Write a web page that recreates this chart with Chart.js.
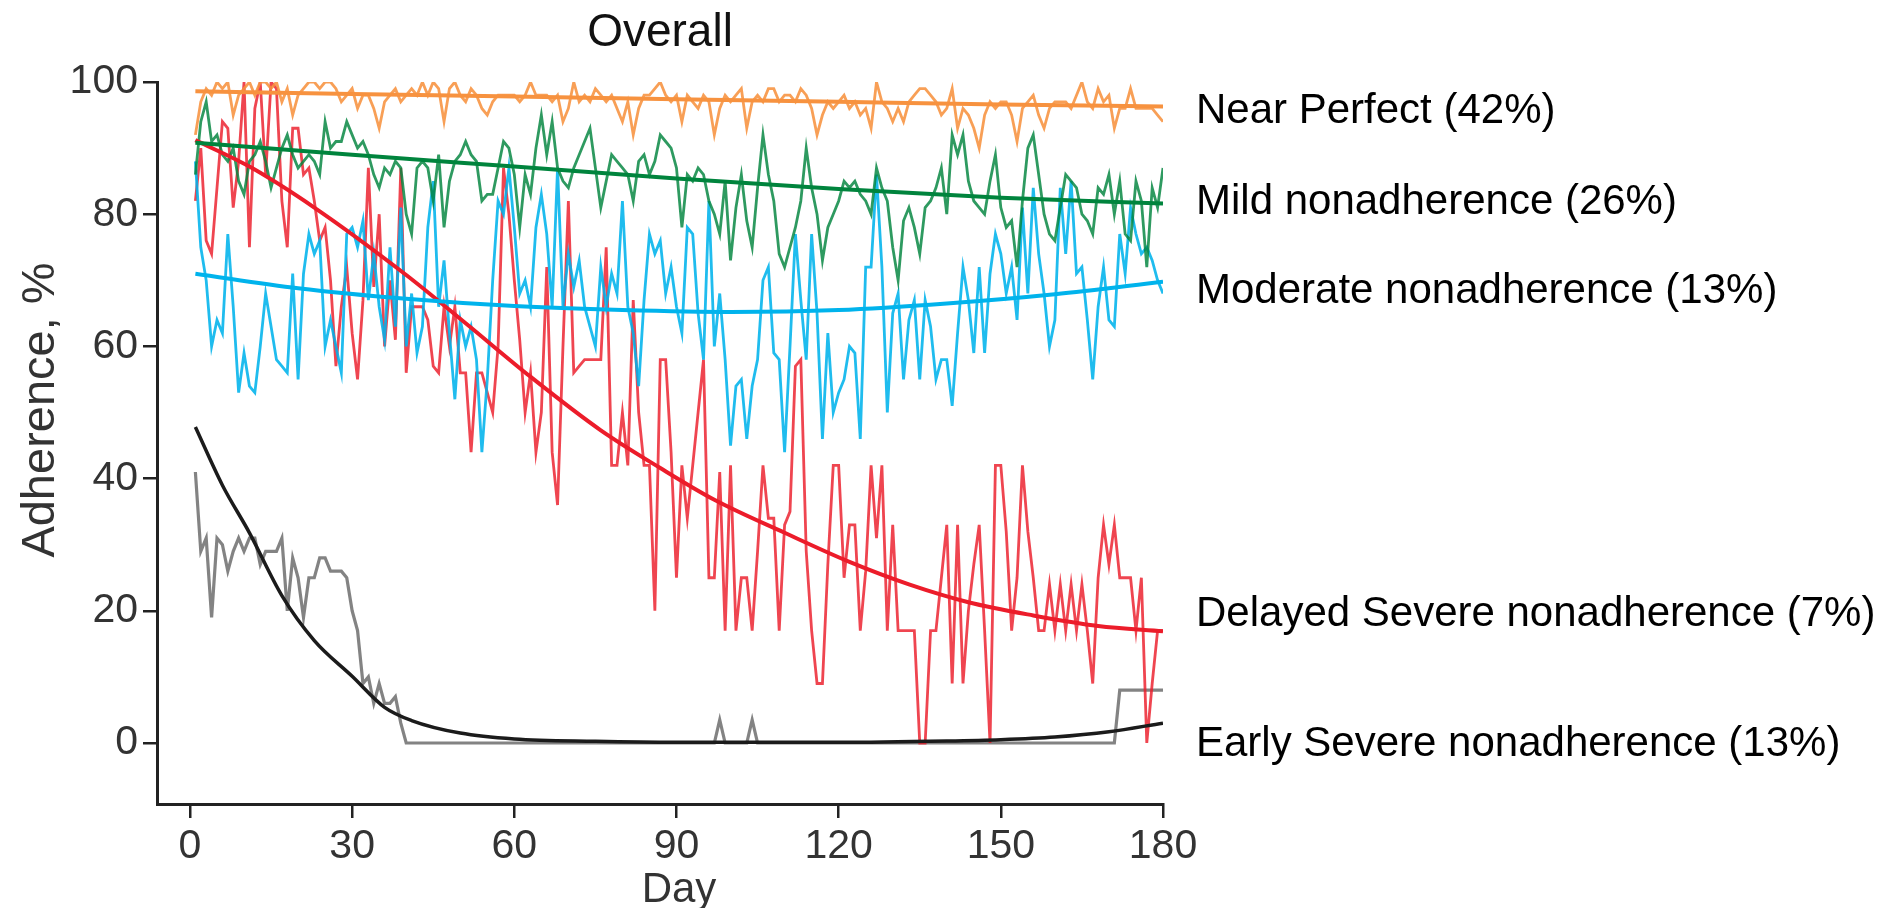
<!DOCTYPE html>
<html><head><meta charset="utf-8">
<script src="https://cdn.jsdelivr.net/npm/chart.js@4/dist/chart.umd.min.js"></script>
<style>html,body{margin:0;padding:0;background:#fff;overflow:hidden}canvas{display:block}</style>
</head><body>
<canvas id="c" width="1889" height="908"></canvas>
<script>
// ---- categories / ticks ----
const days = Array.from({length:180},(_,i)=>i+1);
const xTicks = [0,30,60,90,120,150,180];
const yTicks = [0,20,40,60,80,100];
const title = 'Overall';
const xTitle = 'Day';
const yTitle = 'Adherence, %';
const groupLabels = ['Near Perfect (42%)','Mild nonadherence (26%)','Moderate nonadherence (13%)','Delayed Severe nonadherence (7%)','Early Severe nonadherence (13%)'];
const labelValues = [95.55, 81.85, 68.25, 19.45, -0.25];

// ---- observed daily adherence (%) ----
const nearPerfect = [
92,97,99,98,100,99,100,95,98,99,100,98,100,100,99,100,97,99,95,98,99,100,100,99,100,100,99,97,98,99,96,98,98,96,93,97,
98,99,97,98,99,98,100,98,100,99,94,99,100,98,97,99,98,96,95,97,98,98,98,98,97,98,100,98,98,98,97,98,94,96,100,97,98,
97,99,98,97,98,96,94,97,92,96,98,98,99,100,98,97,98,94,98,97,96,98,97,92,96,98,97,98,99,93,97,98,97,99,99,97,98,
98,97,99,98,96,92,95,97,96,97,98,96,97,95,96,93,100,97,96,94,96,94,97,98,99,99,98,97,95,96,99,93,96,95,93,90,95,
97,96,97,97,95,91,96,97,98,95,93,96,97,97,97,96,98,100,97,96,99,97,98,93,96,96,99,96,96,96,96,95,94];
const mild = [
86,94,97,91,92,89,88,90,85,83,88,89,91,88,84,87,90,92,89,87,88,89,88,86,94,90,91,91,94,92,90,91,89,86,84,87,
86,88,87,80,77,87,88,87,82,89,78,85,88,89,91,89,88,82,83,83,87,91,90,86,78,86,83,90,95,89,94,87,85,84,87,89,91,
93,87,81,85,89,88,87,86,82,88,89,86,88,92,91,90,87,78,86,85,87,86,82,80,77,85,73,81,86,79,75,84,92,86,82,74,72,
75,78,82,90,84,80,73,78,80,82,85,84,85,83,82,80,87,84,82,75,70,79,81,78,74,81,82,84,87,80,92,89,92,85,82,81,80,
85,89,81,78,79,72,82,90,92,86,80,77,76,81,86,85,84,80,79,77,84,83,86,80,85,77,76,85,82,72,84,81,87];
const moderate = [
88,75,70,60,64,62,77,66,53,59,54,53,60,68,63,58,57,56,71,55,71,77,74,76,60,64,60,56,77,78,75,79,67,74,66,61,
75,63,81,60,68,59,63,78,85,66,73,62,52,64,60,63,58,44,55,70,82,80,87,78,68,70,66,78,83,77,66,87,66,74,69,73,66,
63,60,72,66,71,68,82,66,62,54,67,77,74,76,68,72,66,62,78,77,65,58,82,60,68,58,45,54,55,46,54,58,70,72,59,58,44,
60,77,67,58,77,65,46,62,50,53,55,60,59,46,72,72,86,72,50,65,68,55,64,67,55,67,63,55,58,58,51,62,72,67,59,72,59,
71,77,74,68,72,64,81,68,84,74,68,60,64,84,74,85,71,72,64,55,66,72,64,63,77,71,81,77,74,75,73,70,68];
const delayedSevere = [
82,90,76,74,84,94,93,81,88,100,75,96,100,86,100,99,82,75,93,93,86,87,82,76,78,70,57,66,72,62,55,67,87,69,80,60,
70,61,87,56,66,66,66,64,57,56,66,60,66,56,56,44,56,56,53,50,60,87,80,70,61,50,56,44,50,72,44,36,60,82,56,57,58,
58,58,58,75,42,42,50,42,67,50,42,42,20,58,58,44,25,42,34,42,50,58,25,25,41,17,42,17,25,25,17,29,42,34,34,17,33,
35,57,58,29,17,9,9,27,42,42,25,33,33,17,26,42,31,42,17,33,17,17,17,17,0,0,17,17,25,33,9,33,9,20,27,33,17,
0,42,42,32,17,25,42,32,25,17,17,24,17,24,17,24,17,24,17,9,25,33,27,33,25,25,25,17,25,0,9,17,17];
const earlySevere = [
41,29,31,19,31,30,26,29,31,29,
31,31,27,29,29,29,31,20,28,25,
19,25,25,28,28,26,26,26,25,20,
17,9,10,6,9,6,6,7,3,0,
0,0,0,0,0,0,0,0,0,0,
0,0,0,0,0,0,0,0,0,0,
0,0,0,0,0,0,0,0,0,0,
0,0,0,0,0,0,0,0,0,0,
0,0,0,0,0,0,0,0,0,0,
0,0,0,0,0,0,0,3.5,0,0,
0,0,0,3.5,0,0,0,0,0,0,
0,0,0,0,0,0,0,0,0,0,
0,0,0,0,0,0,0,0,0,0,
0,0,0,0,0,0,0,0,0,0,
0,0,0,0,0,0,0,0,0,0,
0,0,0,0,0,0,0,0,0,0,
0,0,0,0,0,0,0,0,0,0,
0,8,8,8,8,8,8,8,8,8];

// ---- fitted trajectories (knots) ----
const fitNearDays = [1,30,60,90,120,150,180];
const fitNear     = [98.6,98.2,97.8,97.4,97.0,96.6,96.3];
const fitMildDays = [1,30,60,90,120,150,180];
const fitMild     = [90.8,89.0,87.2,85.4,83.8,82.5,81.6];
const fitModDays  = [1,20,40,60,80,100,120,140,160,180];
const fitMod      = [71.0,68.8,67.2,66.1,65.5,65.2,65.5,66.5,67.9,69.8];
const fitDelDays  = [1,11,23,40,51,63,76,87,97,110,122,133,144,156,168,180];
const fitDel      = [91.2,87.2,81.0,70.8,63.5,55.4,47.3,41.6,36.8,31.8,27.4,24.0,21.3,19.3,17.7,16.9];
const fitEarlyDays= [1,6,11,17,23,30,36,41,50,60,75,90,120,140,150,160,170,180];
const fitEarly    = [47.8,39.0,31.8,22.3,15.5,10.1,5.4,3.4,1.5,0.6,0.25,0.1,0.1,0.3,0.5,0.9,1.7,3.0];

const COL = {
  orange:'#F7923F', green:'#00843D', blue:'#00B3EC', red:'#EC1C2A', black:'#1b1b1b'
};
const FONT = "'Liberation Sans', Arial, Helvetica, sans-serif";

function noisy(vals, color, w){
  return {data: days.map((d,i)=>({x:d,y:vals[i]})), borderColor: color, borderWidth: w,
          pointRadius:0, tension:0, order:2, borderJoinStyle:'miter'};
}
function fit(xs, ys, color, w){
  return {data: xs.map((d,i)=>({x:d,y:ys[i]})), borderColor: color, borderWidth: w,
          pointRadius:0, cubicInterpolationMode:'monotone', order:1};
}

const textPlugin = {
  id:'texts',
  afterDraw(chart){
    const c = chart.ctx, a = chart.chartArea, ys = chart.scales.y;
    c.save();
    c.fillStyle = '#111';
    c.textAlign = 'center'; c.textBaseline = 'alphabetic';
    c.font = '46px ' + FONT;
    c.fillText(title, (a.left + a.right)/2, 46);
    c.fillStyle = '#333';
    c.font = '42px ' + FONT;
    c.fillText(xTitle, (a.left + a.right)/2 + 19, 902);
    c.save();
    c.translate(41, 410); c.rotate(-Math.PI/2);
    c.textBaseline = 'middle';
    c.font = '47px ' + FONT;
    c.fillText(yTitle, 0, 0);
    c.restore();
    c.fillStyle = '#000';
    c.textAlign = 'left'; c.textBaseline = 'middle';
    c.font = '42px ' + FONT;
    groupLabels.forEach((t,i)=>{ c.fillText(t, 1196, ys.getPixelForValue(labelValues[i])); });
    c.restore();
  }
};

new Chart(document.getElementById('c').getContext('2d'), {
  type:'line',
  data:{datasets:[
    noisy(nearPerfect, 'rgba(247,146,63,0.88)', 2.8),
    noisy(mild, 'rgba(0,132,61,0.82)', 2.8),
    noisy(moderate, 'rgba(0,179,236,0.88)', 2.8),
    noisy(delayedSevere, 'rgba(236,28,42,0.82)', 2.8),
    noisy(earlySevere, 'rgba(90,90,90,0.75)', 3.2),
    fit(fitNearDays, fitNear, COL.orange, 4),
    fit(fitMildDays, fitMild, COL.green, 4),
    fit(fitModDays, fitMod, COL.blue, 4),
    fit(fitDelDays, fitDel, COL.red, 4),
    fit(fitEarlyDays, fitEarly, COL.black, 3.5)
  ]},
  options:{
    responsive:false, animation:false, devicePixelRatio:1,
    layout:{padding:{top:82,right:726,left:0,bottom:0}},
    plugins:{legend:{display:false}, tooltip:{enabled:false}, title:{display:false}},
    scales:{
      x:{type:'linear', min:-6.1, max:180,
         afterBuildTicks:s=>{s.ticks = xTicks.map(v=>({value:v}));},
         afterFit:s=>{s.height = 104;},
         grid:{drawOnChartArea:false, drawTicks:true, tickLength:14, color:'#222', lineWidth:2.5},
         border:{display:true, color:'#222', width:3},
         ticks:{font:{family:FONT, size:41}, color:'#333', padding:4, maxRotation:0, autoSkip:false}},
      y:{type:'linear', min:-9.23, max:100,
         afterBuildTicks:s=>{s.ticks = yTicks.map(v=>({value:v}));},
         afterFit:s=>{s.width = 157;},
         grid:{drawOnChartArea:false, drawTicks:true, tickLength:14, color:'#222', lineWidth:2.5},
         border:{display:true, color:'#222', width:3},
         ticks:{font:{family:FONT, size:41}, color:'#333', padding:5, autoSkip:false}}
    }
  },
  plugins:[textPlugin]
});
</script>
</body></html>
